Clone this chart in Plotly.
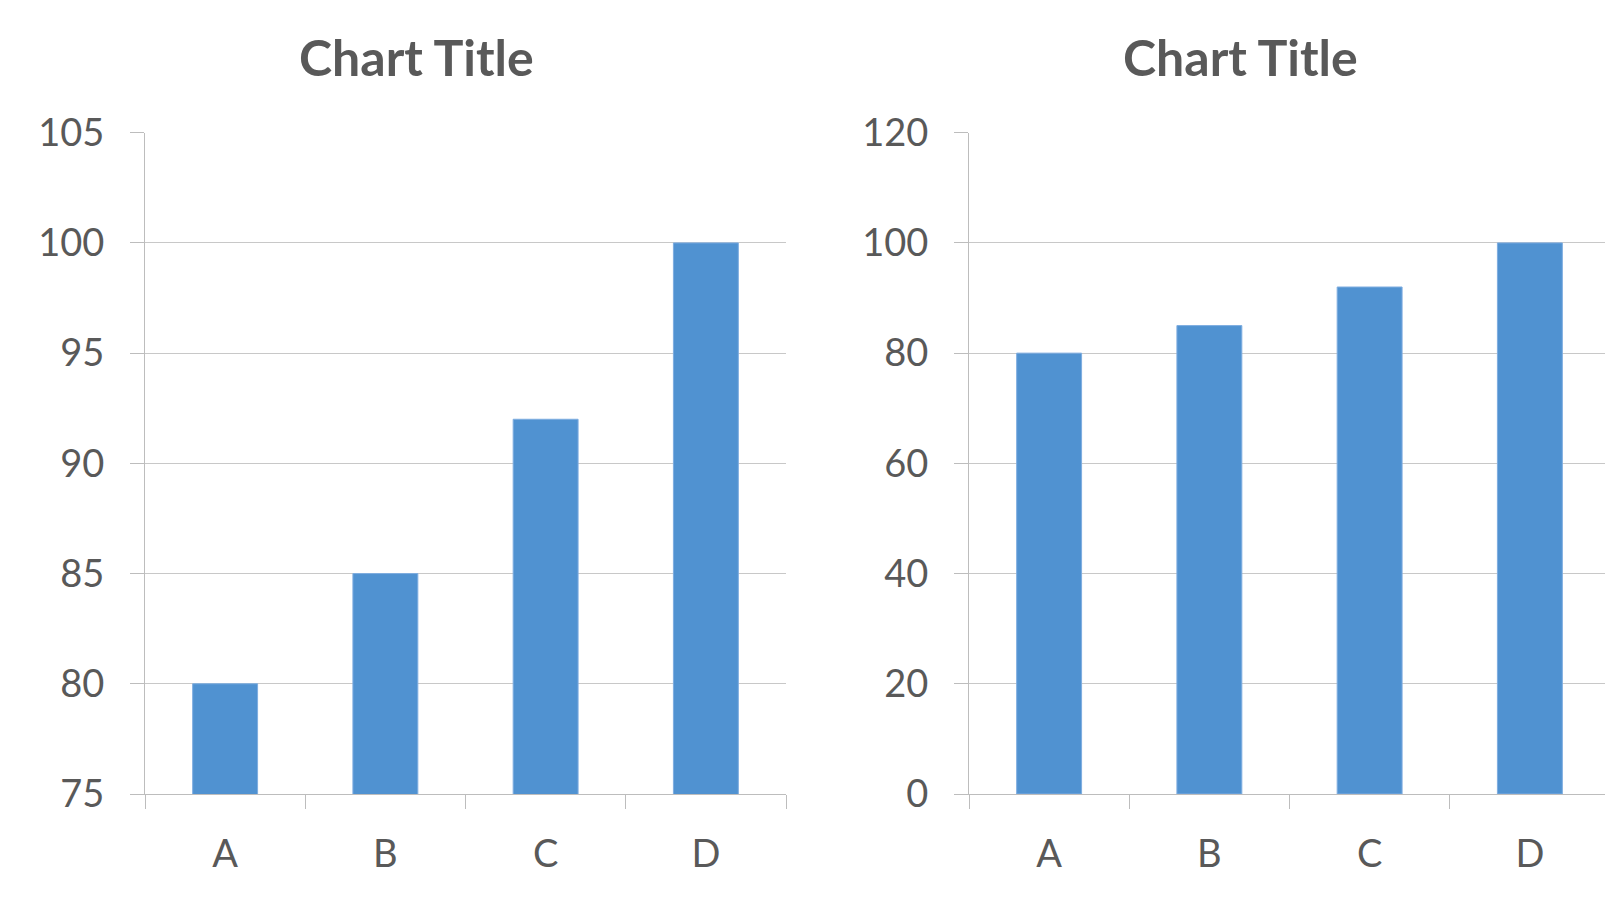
import plotly.graph_objects as go

categories = ["A", "B", "C", "D"]
values = [80, 85, 92, 100]
left_title = "Chart Title"
right_title = "Chart Title"
left_range = [75, 105]
left_dtick = 5
right_range = [0, 120]
right_dtick = 20

TXT = "#595959"
GRID = "#c8c8c8"
AX = "#bdbdbd"
BAR = "#5092d1"
FONT = "Lato"

W, H = 1613, 899
OFF = 8  # page body margin
fig = go.Figure()

for xa, ya in (("x", "y"), ("x2", "y2")):
    fig.add_trace(go.Bar(x=categories, y=values,
                         marker=dict(color=BAR, line=dict(color="#7eade0", width=1)),
                         width=0.405, xaxis=xa, yaxis=ya, showlegend=False))

xdom1 = [(145 - OFF) / W, (786 - OFF) / W]
xdom2 = [(969 - OFF) / W, (1610 - OFF) / W]
ydom = [(H - (794 - OFF)) / H, (H - (132.7 - OFF)) / H]

common_x = dict(type="category", range=[-0.5, 3.5], tickson="boundaries", ticks="outside",
                ticklen=14, tickcolor=AX, tickwidth=1, showline=True, linecolor=AX, linewidth=1,
                showgrid=False, zeroline=False, ticklabelstandoff=26, automargin=False,
                tickfont=dict(family=FONT, size=38, color=TXT))
common_y = dict(ticks="outside", ticklen=14, tickcolor=AX, tickwidth=1, showline=True,
                linecolor=AX, linewidth=1, showgrid=True, gridcolor=GRID, gridwidth=1,
                zeroline=False, ticklabelstandoff=18, automargin=False,
                tickfont=dict(family=FONT, size=38, color=TXT))

title_font = dict(family=FONT, size=50, color=TXT, weight="bold")
fig.update_layout(
    width=W, height=H,
    margin=dict(l=0, r=0, t=0, b=0, pad=0),
    paper_bgcolor="white", plot_bgcolor="white",
    xaxis=dict(domain=xdom1, anchor="y", **common_x),
    yaxis=dict(domain=ydom, anchor="x", range=left_range, dtick=left_dtick, **common_y),
    xaxis2=dict(domain=xdom2, anchor="y2", **common_x),
    yaxis2=dict(domain=ydom, anchor="x2", range=right_range, dtick=right_dtick, **common_y),
    annotations=[
        dict(text=left_title, x=(416 - OFF) / W, y=1 - (57 - OFF) / H, xref="paper", yref="paper",
             showarrow=False, xanchor="center", yanchor="middle", font=title_font),
        dict(text=right_title, x=(1240 - OFF) / W, y=1 - (57 - OFF) / H, xref="paper", yref="paper",
             showarrow=False, xanchor="center", yanchor="middle", font=title_font),
    ],
)

fig.write_html("out.html")
